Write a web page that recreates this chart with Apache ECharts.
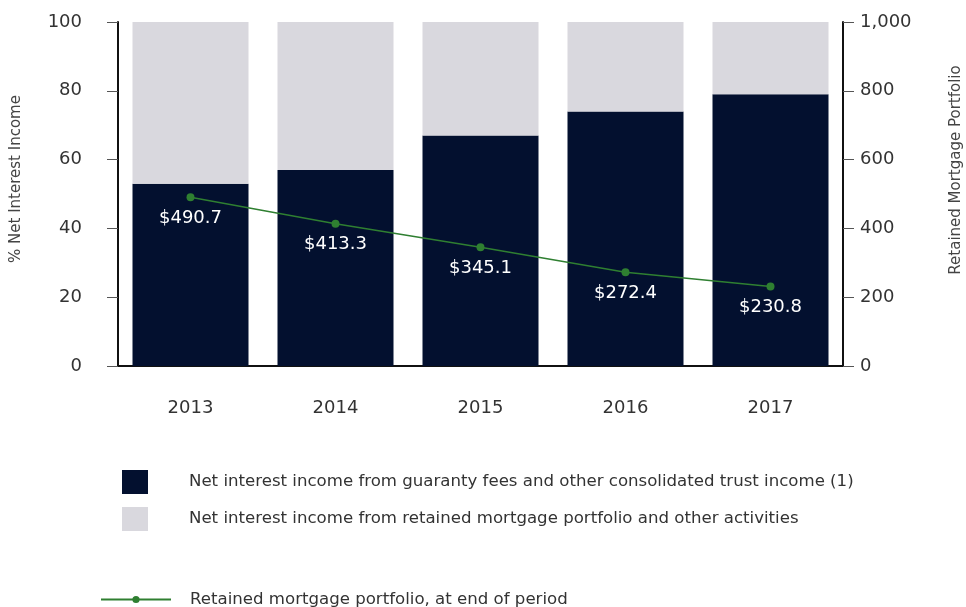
<!DOCTYPE html>
<html>
<head>
<meta charset="utf-8">
<script src="https://cdn.jsdelivr.net/npm/echarts@6/dist/echarts.min.js"></script>
<style>
html,body{margin:0;padding:0;background:#fff;}
#chart{width:966px;height:607px;}
</style>
</head>
<body>
<div id="chart"></div>
<script>
// data
var years = ['2013', '2014', '2015', '2016', '2017'];
var guarantyPct = [53, 57, 67, 74, 79];
var retainedPct = [47, 43, 33, 26, 21];
var portfolio = [490.7, 413.3, 345.1, 272.4, 230.8];

var nameGuaranty = 'Net interest income from guaranty fees and other consolidated trust income (1)';
var nameRetained = 'Net interest income from retained mortgage portfolio and other activities';
var namePortfolio = 'Retained mortgage portfolio, at end of period';

var font = 'DejaVu Sans, Liberation Sans, Arial, sans-serif';
var navy = '#03102f';
var grey = '#d9d8de';
var green = '#2f7f31';

var chart = echarts.init(document.getElementById('chart'));

var option = {
  backgroundColor: '#fff',
  animation: false,
  textStyle: {fontFamily: font},
  grid: {left: 118, right: 123, top: 22, bottom: 241, outerBoundsMode: 'none', containLabel: false},
  legend: [{
    orient: 'vertical',
    left: 122, top: 470,
    padding: 0,
    icon: 'rect',
    itemWidth: 26, itemHeight: 24, itemGap: 13,
    data: [nameGuaranty, nameRetained],
    textStyle: {fontSize: 16.6, color: '#333', fontFamily: font, padding: [0, 0, 0, 36]},
    selectedMode: false
  }, {
    left: 100, top: 591,
    padding: 0,
    itemWidth: 70, itemHeight: 9,
    data: [namePortfolio],
    textStyle: {fontSize: 16.6, color: '#333', fontFamily: font, padding: [0, 0, 0, 14]},
    selectedMode: false
  }],
  xAxis: {
    type: 'category',
    data: years,
    boundaryGap: true,
    axisLine: {lineStyle: {color: '#111', width: 2}},
    axisTick: {alignWithLabel: true, length: 10, lineStyle: {color: '#555'}},
    axisLabel: {fontSize: 18, color: '#333', margin: 33, fontFamily: font}
  },
  yAxis: [{
    type: 'value',
    min: 0, max: 100, interval: 20,
    name: '% Net Interest Income',
    nameLocation: 'middle',
    nameGap: 94,
    nameTextStyle: {fontSize: 15, color: '#444', fontFamily: font, padding: [0, 0, 0, 30]},
    axisLine: {show: true, lineStyle: {color: '#111', width: 2}},
    axisTick: {show: true, length: 11, lineStyle: {color: '#555'}},
    axisLabel: {fontSize: 18, color: '#333', margin: 36, fontFamily: font},
    splitLine: {show: false}
  }, {
    type: 'value',
    min: 0, max: 1000, interval: 200,
    name: 'Retained Mortgage Portfolio',
    nameLocation: 'middle',
    nameGap: 106,
    nameRotate: 90,
    nameTextStyle: {fontSize: 15, color: '#444', fontFamily: font, padding: [0, 0, 0, 48]},
    axisLine: {show: true, lineStyle: {color: '#111', width: 2}},
    axisTick: {show: true, length: 11, lineStyle: {color: '#555'}},
    axisLabel: {
      fontSize: 18, color: '#333', margin: 17, fontFamily: font,
      formatter: function (v) { return v.toLocaleString('en-US'); }
    },
    splitLine: {show: false}
  }],
  series: [{
    name: nameGuaranty,
    type: 'bar',
    stack: 'pct',
    barCategoryGap: '20%',
    itemStyle: {color: navy},
    data: guarantyPct
  }, {
    name: nameRetained,
    type: 'bar',
    stack: 'pct',
    barCategoryGap: '20%',
    itemStyle: {color: grey},
    data: retainedPct
  }, {
    name: namePortfolio,
    type: 'line',
    yAxisIndex: 1,
    symbol: 'circle',
    symbolSize: 8,
    itemStyle: {color: green},
    lineStyle: {color: green, width: 1.5},
    label: {
      show: true,
      position: 'bottom',
      distance: 8,
      color: '#fff',
      fontSize: 18,
      fontFamily: font,
      formatter: function (p) { return '$' + p.value.toFixed(1); }
    },
    data: portfolio,
    z: 5
  }]
};

chart.setOption(option);
</script>
</body>
</html>
